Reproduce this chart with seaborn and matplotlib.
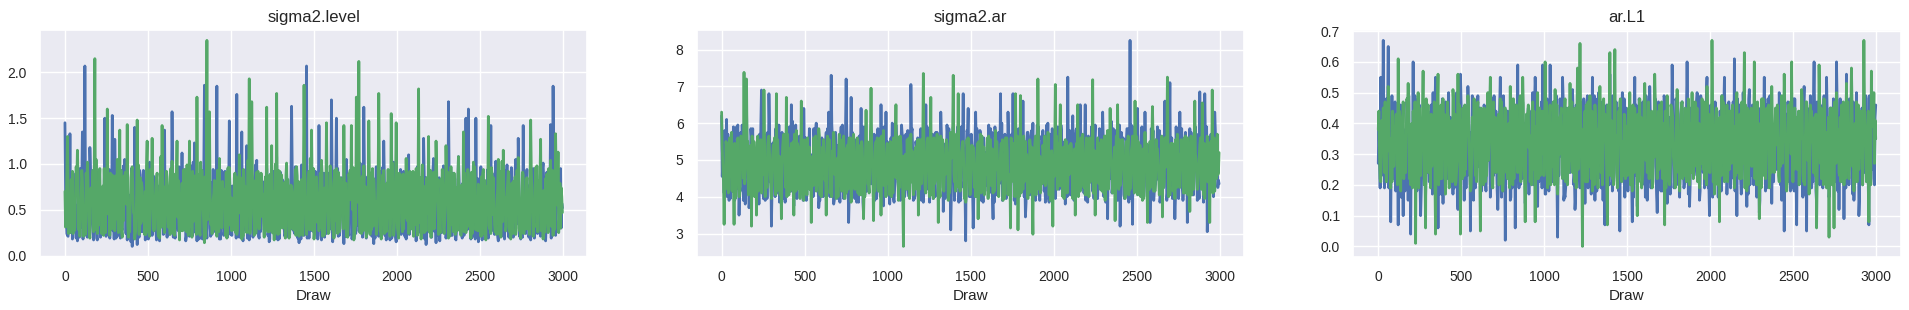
import matplotlib
matplotlib.use("Agg")
import matplotlib.pyplot as plt
import numpy as np
import pandas as pd
import seaborn as sns

# Trace values, every 15th draw ("main" lists carry the
# visible spikes) plus three readings of the band between them (q1, mid, q3).

# --- sigma2.level ---
level_chain1 = [
    1.45, 0.22, 1.33, 0.18, 0.71, 0.16, 0.95, 1.35, 2.07, 0.20, 1.18, 0.35, 0.88, 0.17, 0.62, 0.24, 1.50, 0.31, 0.19, 1.53,
    1.27, 0.21, 0.84, 0.28, 1.05, 0.17, 0.66, 0.10, 1.40, 0.12, 0.93, 0.26, 0.58, 0.19, 1.02, 0.22, 0.77, 0.30, 0.16, 0.85,
    1.37, 0.20, 0.69, 1.57, 0.24, 0.91, 0.18, 1.12, 0.33, 0.72, 0.21, 0.98, 1.23, 0.16, 0.64, 0.27, 1.86, 0.19, 0.81, 0.23,
    0.55, 1.85, 0.18, 0.92, 0.26, 0.70, 1.47, 0.22, 0.58, 1.76, 0.20, 1.35, 0.31, 1.20, 0.17, 0.87, 0.24, 1.04, 0.19, 0.66,
    0.28, 0.95, 0.15, 0.78, 0.23, 1.08, 0.18, 0.61, 0.30, 0.89, 0.21, 1.63, 0.26, 0.74, 0.14, 0.99, 0.22, 2.07, 0.19, 0.83,
    0.25, 0.67, 1.42, 0.17, 0.90, 0.24, 0.56, 1.70, 0.20, 1.50, 0.28, 0.85, 0.13, 1.05, 0.22, 0.71, 0.18, 0.96, 0.27, 0.60,
    1.62, 0.19, 0.88, 0.25, 0.13, 0.97, 0.21, 0.69, 1.25, 0.17, 0.80, 0.26, 1.02, 0.15, 0.64, 0.23, 0.92, 0.18, 1.10, 0.29,
    0.73, 0.16, 0.94, 0.24, 1.28, 0.12, 0.81, 0.20, 1.06, 0.14, 0.66, 0.25, 0.98, 0.19, 1.68, 0.22, 0.75, 0.17, 1.08, 0.26,
    0.59, 1.50, 1.60, 0.18, 0.84, 1.50, 0.15, 0.97, 0.23, 0.70, 0.19, 1.42, 0.27, 1.03, 0.16, 0.79, 0.21, 0.93, 0.25, 0.62,
    0.20, 1.05, 1.28, 0.18, 1.42, 0.24, 0.76, 0.17, 0.95, 0.29, 0.68, 0.21, 1.01, 0.16, 0.84, 1.43, 1.85, 0.22, 0.71, 0.95,
]
level_chain1_q1 = [
    0.68, 0.21, 0.53, 0.90, 0.30, 0.45, 0.79, 0.18, 0.62, 0.36, 0.93, 0.25, 0.57, 0.73, 0.20, 0.48, 0.86, 0.33, 0.65, 0.27,
    0.82, 0.40, 0.19, 0.60, 0.95, 0.29, 0.51, 0.74, 0.22, 0.67, 0.35, 0.88, 0.17, 0.56, 0.80, 0.31, 0.63, 0.24, 0.46, 0.91,
    0.26, 0.64, 0.37, 0.85, 0.19, 0.52, 0.70, 0.28, 0.94, 0.43, 0.60, 0.22, 0.78, 0.34, 0.89, 0.18, 0.55, 0.72, 0.30, 0.47,
    0.84, 0.23, 0.66, 0.39, 0.92, 0.20, 0.58, 0.76, 0.32, 0.50, 0.87, 0.26, 0.61, 0.19, 0.97, 0.42, 0.69, 0.25, 0.54, 0.81,
    0.35, 0.73, 0.18, 0.59, 0.88, 0.29, 0.49, 0.83, 0.21, 0.66, 0.38, 0.94, 0.24, 0.57, 0.77, 0.32, 0.62, 0.19, 0.90, 0.44,
    0.60, 0.27, 0.85, 0.41, 0.20, 0.71, 0.53, 0.93, 0.30, 0.64, 0.22, 0.79, 0.47, 0.36, 0.89, 0.18, 0.58, 0.75, 0.26, 0.51,
    0.92, 0.33, 0.57, 0.21, 0.80, 0.45, 0.68, 0.24, 0.86, 0.39, 0.62, 0.19, 0.95, 0.52, 0.28, 0.74, 0.43, 0.87, 0.23, 0.65,
    0.40, 0.81, 0.26, 0.55, 0.91, 0.30, 0.69, 0.20, 0.77, 0.48, 0.85, 0.25, 0.59, 0.37, 0.94, 0.22, 0.63, 0.29, 0.83, 0.50,
    0.22, 0.67, 0.44, 0.89, 0.27, 0.61, 0.80, 0.35, 0.54, 0.19, 0.92, 0.42, 0.70, 0.24, 0.58, 0.86, 0.31, 0.75, 0.20, 0.96,
    0.63, 0.34, 0.88, 0.25, 0.52, 0.79, 0.20, 0.67, 0.45, 0.93, 0.28, 0.60, 0.82, 0.36, 0.56, 0.19, 0.90, 0.47, 0.72, 0.30,
]
level_chain1_mid = [
    0.42, 0.88, 0.25, 0.63, 0.19, 0.74, 0.31, 0.96, 0.22, 0.58, 0.81, 0.17, 0.47, 0.92, 0.28, 0.69, 0.21, 0.85, 0.36, 0.55,
    0.19, 0.77, 0.33, 0.98, 0.24, 0.61, 0.15, 0.83, 0.39, 0.70, 0.26, 0.93, 0.45, 0.18, 0.66, 0.87, 0.29, 0.52, 0.97, 0.23,
    0.71, 0.35, 0.90, 0.20, 0.57, 0.27, 0.82, 0.44, 0.16, 0.75, 0.38, 1.02, 0.25, 0.62, 0.19, 0.86, 0.32, 0.68, 0.21, 0.94,
    0.30, 0.60, 0.18, 0.79, 0.41, 0.95, 0.23, 0.54, 0.88, 0.27, 0.65, 0.16, 0.84, 0.37, 0.72, 0.20, 0.99, 0.46, 0.26, 0.80,
    0.53, 0.22, 0.89, 0.34, 0.67, 0.17, 0.91, 0.43, 0.24, 0.76, 0.59, 0.28, 0.97, 0.19, 0.64, 0.40, 0.85, 0.23, 0.70, 0.31,
    0.92, 0.18, 0.61, 0.36, 0.83, 0.25, 0.73, 0.15, 0.56, 0.95, 0.30, 0.68, 0.21, 0.87, 0.42, 0.26, 0.78, 0.33, 1.01, 0.20,
    0.48, 0.86, 0.27, 0.64, 0.19, 0.81, 0.35, 0.96, 0.22, 0.58, 0.17, 0.74, 0.44, 0.90, 0.29, 0.67, 0.21, 0.83, 0.38, 0.55,
    0.24, 0.97, 0.32, 0.70, 0.18, 0.62, 0.45, 0.88, 0.26, 0.79, 0.16, 0.57, 0.93, 0.34, 0.69, 0.22, 0.84, 0.40, 0.60, 0.19,
    0.87, 0.28, 0.74, 0.20, 0.95, 0.37, 0.63, 0.17, 0.82, 0.46, 0.27, 0.90, 0.23, 0.71, 0.33, 0.58, 0.18, 0.99, 0.41, 0.66,
    0.29, 0.78, 0.21, 0.61, 0.35, 0.94, 0.25, 0.72, 0.19, 0.86, 0.43, 0.54, 0.27, 0.91, 0.31, 0.68, 0.24, 0.80, 0.38, 0.57,
]
level_chain1_q3 = [
    0.24, 0.61, 0.86, 0.34, 0.55, 0.20, 0.77, 0.43, 0.91, 0.29, 0.66, 0.52, 0.19, 0.83, 0.38, 0.71, 0.26, 0.94, 0.49, 0.18,
    0.58, 0.87, 0.30, 0.46, 0.72, 0.22, 0.95, 0.36, 0.64, 0.20, 0.81, 0.41, 0.68, 0.27, 0.90, 0.53, 0.17, 0.76, 0.33, 0.60,
    0.89, 0.23, 0.54, 0.75, 0.31, 0.97, 0.40, 0.63, 0.21, 0.84, 0.48, 0.29, 0.70, 0.18, 0.59, 0.92, 0.35, 0.50, 0.80, 0.26,
    0.63, 0.44, 0.93, 0.22, 0.57, 0.78, 0.30, 0.67, 0.19, 0.85, 0.39, 0.61, 0.27, 0.95, 0.50, 0.33, 0.73, 0.21, 0.88, 0.42,
    0.71, 0.30, 0.55, 0.92, 0.25, 0.64, 0.38, 0.81, 0.47, 0.20, 0.87, 0.56, 0.33, 0.74, 0.18, 0.96, 0.41, 0.60, 0.27, 0.83,
    0.36, 0.79, 0.22, 0.68, 0.50, 0.90, 0.29, 0.58, 0.83, 0.21, 0.65, 0.44, 0.97, 0.31, 0.54, 0.76, 0.24, 0.88, 0.39, 0.62,
    0.27, 0.59, 0.84, 0.40, 0.71, 0.23, 0.92, 0.48, 0.62, 0.30, 0.87, 0.55, 0.20, 0.69, 0.94, 0.35, 0.57, 0.25, 0.78, 0.46,
    0.88, 0.25, 0.64, 0.42, 0.85, 0.31, 0.56, 0.93, 0.38, 0.22, 0.72, 0.49, 0.82, 0.27, 0.60, 0.90, 0.19, 0.67, 0.44, 0.79,
    0.55, 0.91, 0.32, 0.62, 0.18, 0.84, 0.43, 0.69, 0.26, 0.94, 0.51, 0.35, 0.76, 0.21, 0.88, 0.40, 0.65, 0.28, 0.83, 0.47,
    0.92, 0.39, 0.58, 0.20, 0.81, 0.46, 0.70, 0.31, 0.87, 0.24, 0.63, 0.95, 0.37, 0.55, 0.78, 0.26, 0.61, 0.89, 0.33, 0.52,
]
level_chain2 = [
    0.70, 1.30, 0.25, 0.92, 0.31, 1.15, 0.21, 0.84, 0.28, 1.02, 0.19, 0.76, 2.15, 0.24, 0.95, 0.33, 0.68, 1.60, 0.22, 0.88,
    0.27, 1.05, 1.37, 0.20, 0.80, 1.43, 0.26, 0.97, 0.18, 1.48, 0.30, 0.74, 0.23, 1.25, 0.21, 1.28, 0.29, 0.90, 0.19, 1.42,
    0.25, 0.86, 0.32, 1.03, 0.22, 1.25, 0.17, 0.79, 0.28, 0.99, 1.25, 0.20, 0.87, 1.73, 0.26, 0.93, 0.14, 2.35, 1.57, 0.24,
    0.82, 0.21, 1.06, 0.30, 0.72, 0.19, 0.96, 0.27, 0.85, 0.23, 1.10, 0.18, 0.78, 0.25, 1.93, 1.68, 0.22, 0.91, 0.29, 0.69,
    0.20, 1.62, 0.26, 1.20, 0.17, 1.77, 0.24, 0.88, 0.31, 1.01, 0.19, 0.75, 0.28, 0.97, 0.21, 0.83, 1.86, 0.23, 0.92, 1.37,
    0.18, 0.86, 0.27, 1.04, 0.22, 1.45, 0.25, 0.79, 0.19, 0.95, 0.30, 0.73, 1.42, 0.21, 0.89, 1.42, 0.17, 1.73, 2.12, 0.24,
    0.98, 0.20, 1.47, 0.28, 0.84, 0.23, 1.77, 0.18, 0.93, 0.26, 0.71, 1.55, 0.22, 1.45, 0.19, 0.87, 0.29, 1.06, 0.24, 0.80,
    0.21, 0.95, 1.82, 0.18, 0.76, 0.27, 1.30, 0.20, 0.91, 1.25, 0.23, 0.83, 0.30, 1.20, 0.19, 0.97, 0.26, 0.74, 1.08, 0.22,
    1.35, 0.25, 0.89, 0.19, 1.02, 0.28, 0.78, 0.21, 0.94, 0.17, 1.52, 0.24, 0.85, 0.30, 1.05, 0.20, 1.15, 0.27, 0.92, 0.18,
    0.81, 0.23, 1.07, 0.19, 0.88, 0.29, 0.72, 1.48, 0.21, 0.96, 0.26, 1.27, 0.18, 0.84, 0.25, 1.04, 0.22, 1.33, 1.13, 0.30,
]
level_chain2_q1 = [
    0.31, 0.79, 0.46, 0.24, 0.68, 0.88, 0.37, 0.57, 0.23, 0.82, 0.50, 0.93, 0.28, 0.64, 0.40, 0.76, 0.25, 0.59, 0.90, 0.35,
    0.87, 0.43, 0.29, 0.66, 0.91, 0.33, 0.54, 0.78, 0.24, 0.61, 0.85, 0.38, 0.70, 0.26, 0.94, 0.48, 0.63, 0.30, 0.81, 0.52,
    0.36, 0.75, 0.23, 0.60, 0.89, 0.42, 0.67, 0.27, 0.84, 0.55, 0.32, 0.92, 0.45, 0.71, 0.22, 0.58, 0.86, 0.39, 0.77, 0.25,
    0.58, 0.93, 0.34, 0.81, 0.47, 0.26, 0.73, 0.62, 0.90, 0.29, 0.56, 0.85, 0.41, 0.67, 0.24, 0.95, 0.51, 0.32, 0.78, 0.44,
    0.72, 0.37, 0.88, 0.25, 0.64, 0.53, 0.92, 0.30, 0.80, 0.41, 0.23, 0.69, 0.57, 0.87, 0.33, 0.61, 0.94, 0.46, 0.28, 0.75,
    0.30, 0.68, 0.53, 0.89, 0.27, 0.76, 0.39, 0.62, 0.93, 0.44, 0.26, 0.80, 0.58, 0.35, 0.84, 0.66, 0.23, 0.91, 0.48, 0.71,
    0.63, 0.26, 0.82, 0.49, 0.70, 0.35, 0.94, 0.56, 0.24, 0.79, 0.42, 0.87, 0.31, 0.65, 0.90, 0.38, 0.74, 0.55, 0.27, 0.83,
    0.47, 0.89, 0.36, 0.62, 0.25, 0.85, 0.51, 0.73, 0.29, 0.93, 0.40, 0.66, 0.24, 0.81, 0.57, 0.34, 0.90, 0.63, 0.42, 0.77,
    0.26, 0.72, 0.55, 0.91, 0.38, 0.64, 0.27, 0.86, 0.48, 0.75, 0.33, 0.96, 0.59, 0.23, 0.80, 0.44, 0.68, 0.32, 0.88, 0.53,
    0.69, 0.30, 0.84, 0.47, 0.24, 0.77, 0.58, 0.92, 0.35, 0.63, 0.82, 0.27, 0.71, 0.49, 0.95, 0.32, 0.60, 0.86, 0.25, 0.74,
]
level_chain2_mid = [
    0.55, 0.24, 0.83, 0.36, 0.97, 0.28, 0.66, 0.21, 0.90, 0.41, 0.74, 0.26, 1.05, 0.33, 0.59, 0.22, 0.87, 0.45, 0.30, 0.78,
    0.62, 0.25, 0.93, 0.38, 0.71, 0.20, 0.85, 0.47, 0.27, 0.99, 0.35, 0.64, 0.23, 0.89, 0.52, 0.29, 0.76, 0.21, 1.08, 0.40,
    0.69, 0.31, 0.95, 0.24, 0.58, 0.82, 0.27, 0.73, 0.43, 0.22, 0.91, 0.37, 0.65, 0.26, 1.02, 0.48, 0.20, 0.80, 0.34, 0.61,
    0.28, 0.88, 0.39, 0.70, 0.22, 0.96, 0.33, 0.57, 0.25, 0.84, 0.46, 0.21, 0.75, 1.04, 0.30, 0.63, 0.24, 0.92, 0.42, 0.67,
    0.86, 0.26, 0.60, 0.35, 1.00, 0.23, 0.72, 0.44, 0.19, 0.83, 0.53, 0.29, 0.94, 0.37, 0.68, 0.22, 0.79, 0.32, 1.06, 0.27,
    0.64, 0.36, 0.90, 0.21, 0.74, 0.45, 0.98, 0.28, 0.59, 0.24, 0.85, 0.39, 0.66, 0.20, 0.93, 0.50, 0.31, 0.77, 0.25, 0.87,
    0.34, 0.70, 0.23, 0.95, 0.41, 0.62, 0.27, 0.88, 0.36, 0.73, 0.21, 1.01, 0.47, 0.30, 0.81, 0.26, 0.65, 0.38, 0.92, 0.29,
    0.76, 0.22, 0.58, 0.99, 0.33, 0.69, 0.25, 0.86, 0.43, 0.61, 0.28, 0.94, 0.37, 0.72, 0.21, 0.84, 0.49, 0.27, 0.67, 0.35,
    0.90, 0.31, 0.63, 0.24, 0.97, 0.40, 0.71, 0.22, 0.82, 0.52, 0.29, 0.88, 0.34, 0.60, 0.23, 1.03, 0.45, 0.68, 0.26, 0.79,
    0.37, 0.93, 0.27, 0.66, 0.42, 0.85, 0.23, 0.74, 0.31, 0.98, 0.48, 0.62, 0.25, 0.89, 0.36, 0.70, 0.28, 0.83, 0.40, 0.64,
]
level_chain2_q3 = [
    0.88, 0.44, 0.61, 0.27, 0.80, 0.52, 0.93, 0.34, 0.70, 0.25, 0.58, 0.83, 0.39, 0.76, 0.24, 0.95, 0.48, 0.67, 0.29, 0.85,
    0.40, 0.73, 0.26, 0.87, 0.56, 0.32, 0.92, 0.45, 0.69, 0.23, 0.80, 0.53, 0.97, 0.36, 0.62, 0.27, 0.84, 0.50, 0.31, 0.75,
    0.92, 0.49, 0.27, 0.71, 0.85, 0.37, 0.59, 0.94, 0.26, 0.65, 0.78, 0.43, 0.23, 0.88, 0.54, 0.30, 0.74, 0.96, 0.41, 0.68,
    0.45, 0.26, 0.79, 0.56, 0.91, 0.35, 0.63, 0.28, 0.86, 0.51, 0.72, 0.94, 0.33, 0.60, 0.46, 0.82, 0.25, 0.69, 0.90, 0.37,
    0.29, 0.84, 0.43, 0.70, 0.25, 0.93, 0.51, 0.64, 0.88, 0.32, 0.77, 0.46, 0.22, 0.81, 0.59, 0.90, 0.35, 0.73, 0.49, 0.95,
    0.82, 0.48, 0.31, 0.73, 0.57, 0.24, 0.86, 0.67, 0.38, 0.91, 0.53, 0.29, 0.79, 0.45, 0.61, 0.96, 0.33, 0.58, 0.84, 0.27,
    0.75, 0.50, 0.90, 0.32, 0.59, 0.86, 0.26, 0.69, 0.48, 0.94, 0.35, 0.63, 0.82, 0.24, 0.55, 0.89, 0.41, 0.71, 0.30, 0.92,
    0.34, 0.66, 0.85, 0.28, 0.72, 0.46, 0.93, 0.31, 0.60, 0.83, 0.25, 0.77, 0.52, 0.91, 0.36, 0.68, 0.23, 0.87, 0.55, 0.29,
    0.71, 0.94, 0.38, 0.59, 0.82, 0.27, 0.66, 0.90, 0.33, 0.54, 0.85, 0.45, 0.26, 0.74, 0.92, 0.37, 0.63, 0.81, 0.41, 0.24,
    0.86, 0.53, 0.36, 0.91, 0.64, 0.29, 0.80, 0.42, 0.71, 0.26, 0.88, 0.57, 0.34, 0.76, 0.61, 0.93, 0.30, 0.55, 0.79, 0.47,
]

# --- sigma2.ar ---
ar_sigma_chain1 = [
    6.20, 4.10, 6.10, 3.90, 5.40, 4.30, 5.90, 3.50, 5.10, 4.00, 6.40, 3.70, 5.60, 4.40, 5.20, 3.80, 6.90, 4.20, 5.70, 6.80,
    3.20, 5.50, 4.60, 5.95, 3.85, 5.30, 4.10, 5.80, 6.50, 3.75, 5.00, 4.45, 5.65, 6.40, 3.90, 5.25, 4.20, 5.85, 6.00, 3.70,
    5.45, 4.05, 5.75, 6.30, 7.30, 3.80, 5.20, 4.35, 5.90, 3.95, 7.20, 3.30, 6.70, 4.15, 5.55, 3.85, 6.40, 3.50, 5.35, 4.25,
    5.80, 3.90, 5.15, 4.40, 6.50, 3.75, 6.30, 4.05, 5.60, 3.95, 5.95, 4.30, 5.40, 3.80, 5.70, 4.15, 7.05, 3.90, 5.50, 4.50,
    5.85, 3.85, 6.50, 4.20, 5.30, 3.95, 5.75, 4.40, 6.30, 3.60, 5.45, 4.10, 3.10, 5.90, 4.25, 5.60, 3.90, 6.80, 2.80, 6.40,
    4.00, 3.15, 6.30, 4.35, 5.65, 3.85, 5.20, 4.15, 5.85, 3.40, 5.50, 4.05, 6.80, 3.95, 5.35, 6.30, 4.20, 6.80, 3.80, 5.60,
    4.30, 6.60, 3.45, 5.75, 4.10, 6.00, 3.90, 5.40, 4.45, 5.80, 3.85, 6.00, 4.20, 5.55, 3.95, 5.90, 4.35, 5.25, 3.80, 7.25,
    4.05, 6.20, 3.90, 5.70, 6.50, 4.25, 6.50, 3.85, 5.45, 4.15, 5.95, 3.95, 5.35, 6.30, 4.10, 3.40, 5.60, 4.30, 5.80, 3.90,
    3.20, 5.50, 4.20, 5.85, 8.25, 3.25, 5.60, 6.40, 4.05, 5.65, 6.30, 3.90, 3.30, 5.40, 4.25, 5.90, 3.85, 5.55, 6.60, 4.10,
    7.10, 3.95, 3.40, 5.75, 6.30, 4.20, 5.50, 3.30, 5.85, 4.05, 5.40, 3.90, 6.85, 4.30, 6.80, 3.05, 5.60, 4.15, 6.30, 5.00,
]
ar_sigma_chain1_q1 = [
    4.55, 5.80, 4.00, 5.35, 4.70, 3.90, 5.60, 4.25, 5.95, 4.45, 5.15, 3.85, 5.50, 4.80, 4.10, 5.70, 4.35, 5.25, 3.95, 5.85,
    4.20, 5.45, 4.90, 3.85, 5.75, 4.40, 5.05, 5.90, 4.15, 5.30, 3.95, 5.65, 4.60, 5.10, 4.05, 5.85, 4.30, 5.55, 4.75, 3.90,
    5.60, 4.10, 5.20, 4.70, 5.95, 3.90, 5.40, 4.55, 5.05, 4.25, 5.80, 4.00, 5.30, 4.85, 3.85, 5.65, 4.45, 5.90, 4.15, 5.15,
    4.35, 5.70, 3.95, 5.25, 4.65, 5.90, 4.20, 5.45, 4.80, 3.85, 5.55, 4.10, 5.95, 4.50, 5.10, 4.00, 5.75, 4.30, 5.35, 4.90,
    3.90, 5.40, 4.55, 5.80, 4.15, 5.20, 4.75, 3.95, 5.65, 4.35, 5.00, 5.85, 4.05, 5.50, 4.60, 3.85, 5.90, 4.25, 5.30, 4.70,
    5.70, 4.00, 5.35, 4.85, 3.90, 5.60, 4.30, 5.95, 4.50, 5.15, 4.05, 5.75, 4.40, 5.25, 3.95, 5.55, 4.65, 5.00, 4.20, 5.85,
    4.45, 5.25, 3.85, 5.65, 4.70, 5.05, 4.10, 5.90, 4.35, 5.40, 4.80, 3.95, 5.70, 4.25, 5.15, 4.55, 5.95, 4.00, 5.45, 4.90,
    5.50, 4.20, 5.80, 4.05, 5.30, 4.60, 3.90, 5.65, 4.40, 5.95, 4.15, 5.10, 4.75, 5.55, 3.85, 5.35, 4.50, 5.85, 4.30, 5.05,
    4.10, 5.60, 4.45, 5.25, 3.95, 5.90, 4.65, 5.00, 4.20, 5.70, 4.85, 5.40, 3.90, 5.80, 4.35, 5.15, 4.00, 5.55, 4.60, 5.95,
    4.70, 5.15, 4.00, 5.50, 4.85, 3.90, 5.75, 4.30, 5.35, 4.55, 5.90, 4.10, 5.20, 4.65, 5.60, 3.95, 5.45, 4.40, 5.80, 4.25,
]
ar_sigma_chain1_mid = [
    5.10, 4.35, 5.70, 3.95, 5.35, 4.60, 5.95, 4.15, 5.50, 3.80, 5.25, 4.50, 5.85, 4.05, 5.60, 4.30, 5.05, 3.90, 5.75, 4.40,
    5.45, 4.00, 5.90, 4.25, 5.15, 3.85, 5.65, 4.55, 6.05, 4.10, 5.30, 4.45, 5.80, 3.95, 5.55, 4.20, 5.00, 4.65, 5.70, 3.90,
    5.20, 4.40, 5.85, 4.00, 5.60, 4.30, 5.35, 3.85, 5.95, 4.50, 5.10, 4.15, 5.75, 3.95, 5.40, 4.60, 5.90, 4.05, 5.25, 4.35,
    5.65, 3.90, 5.30, 4.45, 5.80, 4.10, 5.50, 3.80, 6.00, 4.25, 5.15, 4.55, 5.70, 4.00, 5.45, 4.35, 5.85, 3.95, 5.20, 4.50,
    5.55, 4.15, 5.90, 3.85, 5.35, 4.40, 5.75, 4.05, 5.10, 4.60, 5.95, 4.20, 5.50, 3.90, 5.65, 4.30, 5.05, 4.45, 5.80, 4.00,
    5.40, 4.25, 5.85, 3.95, 5.60, 4.50, 5.20, 4.10, 5.75, 3.85, 5.45, 4.35, 6.00, 4.05, 5.30, 4.55, 5.70, 3.90, 5.15, 4.40,
    5.90, 4.00, 5.50, 4.30, 5.80, 3.95, 5.25, 4.45, 5.65, 4.15, 5.95, 3.85, 5.40, 4.60, 5.10, 4.20, 5.75, 4.05, 5.55, 4.35,
    5.30, 3.90, 5.85, 4.50, 5.60, 4.10, 5.15, 4.40, 5.90, 3.95, 5.45, 4.25, 5.70, 4.00, 5.35, 4.55, 6.05, 4.15, 5.20, 4.30,
    5.75, 4.05, 5.50, 3.85, 5.95, 4.35, 5.25, 4.60, 5.65, 4.00, 5.40, 4.20, 5.85, 3.90, 5.55, 4.45, 5.10, 4.25, 5.80, 4.10,
    5.35, 4.40, 5.90, 3.95, 5.60, 4.15, 5.45, 4.50, 5.75, 4.05, 5.20, 4.30, 5.95, 3.85, 5.50, 4.35, 5.70, 4.00, 5.30, 4.45,
]
ar_sigma_chain1_q3 = [
    5.65, 4.05, 5.30, 4.60, 5.90, 4.20, 4.95, 5.75, 3.90, 5.45, 4.40, 5.85, 4.10, 5.20, 4.70, 5.95, 3.95, 5.55, 4.50, 5.05,
    4.65, 5.85, 4.10, 5.40, 3.95, 5.70, 4.45, 5.00, 4.80, 5.95, 4.25, 5.25, 3.90, 5.60, 4.55, 5.15, 4.00, 5.80, 4.35, 5.50,
    4.00, 5.55, 4.80, 5.10, 4.25, 5.75, 3.95, 5.65, 4.35, 5.90, 4.60, 5.20, 4.10, 5.50, 4.90, 5.05, 3.85, 5.80, 4.55, 5.30,
    5.40, 4.15, 5.85, 4.00, 5.55, 4.30, 5.05, 4.75, 5.90, 4.40, 5.25, 3.90, 5.65, 4.20, 5.80, 4.60, 5.15, 4.05, 5.60, 4.45,
    5.85, 4.30, 5.10, 4.60, 5.70, 4.00, 5.50, 4.85, 5.30, 3.95, 5.65, 4.35, 5.15, 4.75, 5.90, 4.20, 5.40, 4.05, 5.75, 4.55,
    4.25, 5.50, 4.05, 5.80, 4.45, 5.15, 4.70, 5.35, 4.00, 5.90, 4.55, 5.20, 3.90, 5.70, 4.35, 5.05, 4.85, 5.60, 4.10, 5.45,
    5.15, 4.50, 5.75, 4.05, 5.40, 4.30, 5.95, 3.90, 5.55, 4.70, 5.25, 4.15, 5.85, 4.45, 5.00, 5.65, 4.20, 5.50, 4.00, 5.80,
    4.40, 5.70, 4.25, 5.90, 4.60, 5.20, 4.00, 5.45, 4.80, 5.60, 3.95, 5.85, 4.35, 5.05, 4.55, 5.75, 4.10, 5.30, 4.65, 5.95,
    5.45, 3.95, 5.85, 4.50, 5.15, 4.75, 5.60, 4.05, 5.90, 4.30, 5.25, 4.60, 5.70, 4.15, 5.00, 5.80, 4.40, 5.35, 3.90, 5.55,
    5.60, 4.20, 5.05, 4.65, 5.85, 4.30, 5.50, 4.00, 5.25, 4.75, 5.70, 3.95, 5.40, 4.50, 5.90, 4.15, 5.15, 4.60, 5.55, 4.35,
]
ar_sigma_chain2 = [
    6.30, 3.25, 5.40, 4.20, 5.75, 3.25, 5.10, 4.00, 5.60, 7.38, 7.20, 4.35, 3.20, 5.50, 3.50, 5.20, 4.10, 6.90, 4.45, 5.65,
    3.95, 5.35, 6.80, 4.25, 3.40, 5.70, 6.70, 4.05, 5.45, 3.50, 5.80, 4.30, 6.60, 3.90, 5.25, 4.50, 3.30, 5.60, 4.15, 5.85,
    4.00, 5.55, 3.50, 5.30, 4.20, 5.75, 3.95, 5.15, 4.40, 5.65, 4.10, 5.45, 3.85, 5.70, 4.25, 5.35, 4.05, 3.40, 6.35, 4.30,
    6.95, 3.35, 5.50, 4.15, 3.50, 5.80, 4.00, 5.25, 4.45, 5.60, 6.50, 3.90, 5.40, 2.65, 5.05, 4.30, 5.70, 4.05, 5.35, 3.50,
    5.55, 7.35, 4.10, 5.45, 6.70, 3.95, 5.20, 3.30, 5.65, 4.25, 5.30, 3.90, 5.75, 7.30, 4.15, 6.80, 4.40, 5.50, 3.85, 5.60,
    4.20, 5.35, 4.00, 3.40, 5.70, 4.30, 5.15, 3.95, 5.55, 4.10, 5.80, 4.35, 5.25, 3.90, 5.60, 4.05, 3.15, 5.45, 6.80, 3.10,
    6.75, 4.20, 5.50, 3.95, 5.30, 2.98, 5.65, 7.20, 4.10, 5.40, 4.30, 5.75, 3.90, 3.20, 7.05, 4.25, 6.50, 4.00, 5.55, 4.35,
    5.20, 3.95, 3.50, 6.50, 4.15, 5.70, 4.05, 5.35, 4.40, 7.18, 3.50, 5.60, 4.20, 5.45, 3.90, 5.80, 6.40, 4.10, 3.35, 6.50,
    4.30, 5.55, 3.95, 5.25, 4.20, 5.65, 6.60, 4.05, 5.40, 3.90, 5.75, 3.30, 5.50, 6.45, 4.15, 5.30, 4.40, 3.45, 5.60, 7.25,
    4.05, 5.45, 3.95, 5.70, 4.25, 5.35, 4.10, 5.60, 3.60, 5.50, 6.60, 4.20, 5.40, 6.55, 3.95, 5.65, 3.30, 6.90, 4.15, 5.70,
]
ar_sigma_chain2_q1 = [
    5.30, 4.50, 5.00, 5.60, 4.15, 5.45, 4.70, 4.05, 5.55, 4.35, 5.15, 4.80, 5.65, 4.00, 5.35, 4.60, 5.05, 5.50, 4.25, 5.20,
    4.55, 5.60, 4.15, 5.10, 4.85, 5.45, 4.00, 5.30, 4.65, 5.70, 4.20, 5.00, 4.45, 5.55, 4.05, 5.35, 4.75, 5.15, 4.30, 5.65,
    4.25, 5.15, 4.80, 5.55, 4.00, 5.40, 4.55, 5.70, 4.15, 5.05, 4.70, 5.60, 4.35, 5.25, 4.90, 4.05, 5.50, 4.45, 5.20, 4.10,
    5.50, 4.60, 5.05, 4.15, 5.65, 4.30, 5.20, 4.85, 4.00, 5.45, 4.50, 5.35, 4.75, 5.10, 4.20, 5.60, 4.40, 5.00, 4.65, 5.55,
    4.35, 5.40, 4.70, 5.15, 4.05, 5.60, 4.50, 5.25, 4.80, 4.15, 5.55, 4.40, 5.05, 4.65, 5.70, 4.25, 5.20, 4.85, 4.00, 5.45,
    4.80, 5.05, 4.35, 5.50, 4.10, 5.35, 4.60, 5.65, 4.30, 5.25, 4.75, 4.00, 5.45, 4.55, 5.15, 4.25, 5.60, 4.40, 5.00, 4.70,
    4.10, 5.65, 4.50, 5.05, 4.75, 5.30, 4.05, 5.50, 4.60, 5.20, 4.35, 5.70, 4.15, 5.10, 4.85, 5.45, 4.30, 5.35, 4.70, 5.00,
    5.45, 4.40, 5.15, 4.00, 5.60, 4.65, 5.25, 4.30, 5.50, 4.10, 5.05, 4.80, 5.40, 4.55, 5.65, 4.20, 5.30, 4.45, 5.10, 4.75,
    4.60, 5.35, 4.20, 5.65, 4.45, 5.05, 4.85, 5.50, 4.00, 5.30, 4.70, 5.15, 4.25, 5.60, 4.50, 5.00, 4.35, 5.45, 4.80, 5.20,
    5.25, 4.15, 5.55, 4.35, 5.10, 4.70, 5.65, 4.05, 5.40, 4.55, 5.20, 4.30, 5.60, 4.80, 5.00, 4.40, 5.45, 4.10, 5.35, 4.60,
]
ar_sigma_chain2_mid = [
    4.85, 4.20, 5.45, 4.55, 5.10, 3.95, 5.60, 4.35, 5.25, 4.70, 5.50, 4.10, 5.05, 4.45, 5.65, 4.25, 5.30, 4.00, 5.40, 4.60,
    5.15, 4.30, 5.55, 4.05, 5.35, 4.65, 5.70, 4.15, 5.00, 4.50, 5.45, 3.95, 5.20, 4.40, 5.60, 4.20, 5.10, 4.75, 5.50, 4.05,
    5.35, 4.45, 5.65, 4.10, 5.25, 4.60, 5.05, 4.30, 5.55, 3.95, 5.40, 4.50, 5.15, 4.20, 5.60, 4.35, 5.30, 4.00, 5.50, 4.65,
    5.20, 4.15, 5.60, 4.40, 5.00, 4.70, 5.45, 4.05, 5.35, 4.55, 5.65, 4.25, 5.10, 4.45, 5.55, 3.95, 5.25, 4.60, 5.40, 4.20,
    5.05, 4.50, 5.50, 4.00, 5.30, 4.35, 5.70, 4.20, 5.15, 4.65, 5.45, 4.10, 5.60, 4.40, 5.00, 4.55, 5.35, 3.95, 5.55, 4.30,
    5.40, 4.25, 5.20, 4.60, 5.65, 4.05, 5.30, 4.45, 5.05, 4.15, 5.50, 4.70, 5.25, 3.95, 5.60, 4.35, 5.10, 4.50, 5.45, 4.00,
    5.55, 4.40, 5.15, 4.10, 5.35, 4.65, 5.60, 4.20, 5.00, 4.45, 5.40, 4.05, 5.25, 4.55, 5.65, 4.30, 5.10, 3.95, 5.50, 4.60,
    5.30, 4.15, 5.45, 4.50, 5.05, 4.25, 5.60, 4.00, 5.35, 4.70, 5.20, 4.35, 5.55, 4.10, 5.40, 4.45, 5.00, 4.60, 5.65, 4.20,
    5.10, 4.55, 5.50, 4.05, 5.25, 4.40, 5.65, 4.30, 5.15, 3.95, 5.45, 4.65, 5.35, 4.15, 5.55, 4.50, 5.05, 4.25, 5.60, 4.00,
    5.45, 4.35, 5.20, 4.60, 5.55, 4.10, 5.30, 4.45, 5.65, 4.20, 5.00, 4.55, 5.40, 4.05, 5.25, 4.70, 5.50, 4.30, 5.15, 4.65,
]
ar_sigma_chain2_q3 = [
    4.40, 5.50, 4.10, 5.25, 4.65, 5.00, 4.25, 5.65, 4.50, 5.10, 4.05, 5.40, 4.75, 5.30, 4.15, 5.55, 4.60, 4.95, 5.60, 4.30,
    5.40, 4.05, 5.05, 4.70, 5.60, 4.25, 5.20, 4.55, 5.50, 4.15, 5.35, 4.80, 4.10, 5.45, 4.60, 5.00, 4.30, 5.65, 4.45, 5.10,
    5.00, 4.60, 5.55, 4.30, 5.15, 4.85, 4.00, 5.45, 4.65, 5.30, 4.20, 5.60, 4.50, 5.05, 4.10, 5.40, 4.75, 5.20, 4.35, 5.65,
    4.50, 5.35, 4.25, 5.60, 4.80, 5.05, 4.35, 5.50, 4.10, 5.25, 4.70, 5.65, 4.00, 5.15, 4.55, 5.40, 4.85, 4.20, 5.55, 4.65,
    5.35, 4.20, 5.60, 4.75, 5.10, 4.45, 5.40, 4.00, 5.55, 4.60, 5.20, 4.30, 5.65, 4.85, 5.00, 4.15, 5.50, 4.50, 5.25, 4.05,
    5.10, 4.55, 5.45, 4.20, 5.00, 4.70, 5.60, 4.35, 5.30, 4.80, 5.15, 4.45, 5.55, 4.10, 5.25, 4.60, 5.40, 4.00, 5.65, 4.30,
    4.75, 5.20, 4.30, 5.55, 4.00, 5.45, 4.65, 5.10, 4.35, 5.65, 4.50, 5.05, 4.80, 5.35, 4.20, 5.60, 4.45, 5.00, 4.10, 5.40,
    4.60, 5.30, 4.80, 5.50, 4.35, 5.15, 4.05, 5.60, 4.70, 5.25, 4.45, 5.45, 4.15, 5.65, 4.55, 5.05, 4.90, 5.35, 4.25, 5.55,
    5.55, 4.30, 5.15, 4.70, 5.40, 4.10, 5.60, 4.50, 5.25, 4.85, 5.05, 4.20, 5.50, 4.60, 5.30, 4.05, 5.65, 4.40, 5.10, 4.75,
    4.55, 5.40, 4.25, 5.15, 4.85, 5.60, 4.35, 5.30, 4.05, 5.50, 4.65, 5.05, 4.20, 5.45, 4.75, 5.25, 4.15, 5.60, 4.50, 5.20,
]

# --- ar.L1 ---
ar_l1_chain1 = [
    0.27, 0.55, 0.67, 0.22, 0.65, 0.08, 0.41, 0.18, 0.07, 0.46, 0.10, 0.35, 0.15, 0.04, 0.60, 0.24, 0.48, 0.10, 0.38, 0.16,
    0.44, 0.20, 0.50, 0.55, 0.06, 0.39, 0.14, 0.47, 0.22, 0.42, 0.17, 0.36, 0.12, 0.56, 0.25, 0.45, 0.52, 0.05, 0.40, 0.19,
    0.49, 0.13, 0.37, 0.21, 0.46, 0.16, 0.43, 0.24, 0.12, 0.55, 0.18, 0.02, 0.44, 0.15, 0.38, 0.06, 0.59, 0.20, 0.47, 0.14,
    0.41, 0.23, 0.50, 0.55, 0.13, 0.39, 0.59, 0.17, 0.45, 0.59, 0.21, 0.36, 0.03, 0.48, 0.55, 0.16, 0.42, 0.24, 0.51, 0.12,
    0.44, 0.19, 0.38, 0.14, 0.49, 0.22, 0.55, 0.15, 0.40, 0.26, 0.47, 0.07, 0.36, 0.56, 0.18, 0.43, 0.21, 0.05, 0.50, 0.16,
    0.41, 0.25, 0.08, 0.55, 0.13, 0.46, 0.20, 0.37, 0.15, 0.52, 0.23, 0.44, 0.11, 0.39, 0.18, 0.48, 0.14, 0.42, 0.59, 0.22,
    0.37, 0.16, 0.47, 0.21, 0.60, 0.13, 0.43, 0.25, 0.50, 0.15, 0.40, 0.19, 0.55, 0.10, 0.45, 0.22, 0.38, 0.14, 0.49, 0.55,
    0.17, 0.42, 0.24, 0.61, 0.10, 0.46, 0.20, 0.36, 0.13, 0.51, 0.23, 0.44, 0.16, 0.11, 0.41, 0.55, 0.19, 0.47, 0.14, 0.39,
    0.25, 0.50, 0.15, 0.05, 0.43, 0.21, 0.48, 0.18, 0.07, 0.40, 0.24, 0.52, 0.05, 0.37, 0.19, 0.60, 0.14, 0.45, 0.22, 0.49,
    0.55, 0.16, 0.41, 0.23, 0.60, 0.12, 0.46, 0.09, 0.56, 0.20, 0.43, 0.15, 0.50, 0.10, 0.38, 0.24, 0.48, 0.07, 0.45, 0.22,
]
ar_l1_chain1_q1 = [
    0.42, 0.23, 0.36, 0.48, 0.19, 0.33, 0.45, 0.27, 0.40, 0.16, 0.38, 0.24, 0.49, 0.30, 0.21, 0.44, 0.35, 0.18, 0.47, 0.26,
    0.39, 0.46, 0.22, 0.34, 0.43, 0.17, 0.37, 0.28, 0.50, 0.20, 0.41, 0.31, 0.25, 0.47, 0.36, 0.19, 0.42, 0.29, 0.15, 0.45,
    0.26, 0.40, 0.33, 0.18, 0.47, 0.35, 0.23, 0.44, 0.20, 0.38, 0.49, 0.27, 0.41, 0.16, 0.34, 0.46, 0.24, 0.39, 0.30, 0.21,
    0.45, 0.31, 0.20, 0.49, 0.36, 0.27, 0.42, 0.17, 0.40, 0.33, 0.22, 0.46, 0.29, 0.38, 0.48, 0.19, 0.35, 0.25, 0.43, 0.16,
    0.37, 0.47, 0.26, 0.34, 0.19, 0.43, 0.30, 0.48, 0.22, 0.40, 0.15, 0.45, 0.32, 0.24, 0.49, 0.36, 0.20, 0.44, 0.28, 0.38,
    0.18, 0.35, 0.44, 0.23, 0.40, 0.29, 0.47, 0.16, 0.37, 0.42, 0.26, 0.48, 0.21, 0.33, 0.45, 0.25, 0.39, 0.17, 0.46, 0.31,
    0.47, 0.24, 0.39, 0.30, 0.45, 0.20, 0.36, 0.27, 0.49, 0.18, 0.42, 0.34, 0.23, 0.41, 0.16, 0.47, 0.29, 0.44, 0.22, 0.37,
    0.23, 0.43, 0.35, 0.18, 0.48, 0.31, 0.25, 0.44, 0.39, 0.20, 0.46, 0.28, 0.36, 0.15, 0.42, 0.33, 0.24, 0.49, 0.30, 0.40,
    0.34, 0.46, 0.21, 0.41, 0.28, 0.37, 0.19, 0.48, 0.32, 0.26, 0.43, 0.17, 0.45, 0.35, 0.22, 0.40, 0.47, 0.20, 0.38, 0.27,
    0.44, 0.19, 0.37, 0.26, 0.47, 0.33, 0.21, 0.42, 0.29, 0.48, 0.36, 0.23, 0.40, 0.16, 0.45, 0.30, 0.25, 0.49, 0.34, 0.20,
]
ar_l1_chain1_mid = [
    0.31, 0.45, 0.19, 0.40, 0.26, 0.49, 0.22, 0.37, 0.16, 0.43, 0.28, 0.47, 0.20, 0.35, 0.41, 0.18, 0.46, 0.25, 0.33, 0.44,
    0.21, 0.39, 0.27, 0.48, 0.17, 0.42, 0.30, 0.45, 0.23, 0.36, 0.19, 0.50, 0.26, 0.40, 0.15, 0.44, 0.32, 0.24, 0.47, 0.29,
    0.38, 0.18, 0.46, 0.25, 0.41, 0.20, 0.49, 0.28, 0.35, 0.16, 0.43, 0.31, 0.22, 0.48, 0.27, 0.39, 0.19, 0.45, 0.24, 0.36,
    0.17, 0.44, 0.29, 0.40, 0.21, 0.47, 0.26, 0.34, 0.18, 0.42, 0.30, 0.49, 0.23, 0.37, 0.15, 0.45, 0.27, 0.41, 0.20, 0.46,
    0.33, 0.22, 0.48, 0.28, 0.39, 0.17, 0.44, 0.25, 0.50, 0.19, 0.36, 0.31, 0.21, 0.43, 0.26, 0.47, 0.18, 0.40, 0.24, 0.45,
    0.29, 0.42, 0.16, 0.46, 0.27, 0.38, 0.22, 0.49, 0.30, 0.19, 0.41, 0.25, 0.47, 0.18, 0.35, 0.44, 0.23, 0.39, 0.28, 0.48,
    0.20, 0.43, 0.26, 0.37, 0.17, 0.45, 0.32, 0.40, 0.21, 0.49, 0.24, 0.34, 0.19, 0.46, 0.28, 0.42, 0.16, 0.38, 0.25, 0.44,
    0.36, 0.19, 0.47, 0.27, 0.41, 0.22, 0.50, 0.30, 0.17, 0.43, 0.26, 0.39, 0.21, 0.45, 0.33, 0.18, 0.48, 0.24, 0.37, 0.28,
    0.42, 0.20, 0.36, 0.25, 0.47, 0.18, 0.40, 0.29, 0.23, 0.44, 0.16, 0.38, 0.27, 0.49, 0.21, 0.35, 0.26, 0.46, 0.19, 0.41,
    0.24, 0.45, 0.30, 0.39, 0.18, 0.48, 0.27, 0.35, 0.22, 0.43, 0.17, 0.46, 0.28, 0.40, 0.20, 0.44, 0.31, 0.37, 0.25, 0.42,
]
ar_l1_chain1_q3 = [
    0.19, 0.39, 0.28, 0.44, 0.35, 0.22, 0.47, 0.30, 0.41, 0.25, 0.18, 0.43, 0.36, 0.27, 0.49, 0.32, 0.21, 0.40, 0.46, 0.24,
    0.33, 0.17, 0.45, 0.36, 0.28, 0.48, 0.20, 0.41, 0.34, 0.26, 0.47, 0.16, 0.39, 0.30, 0.44, 0.23, 0.37, 0.49, 0.21, 0.42,
    0.45, 0.29, 0.21, 0.43, 0.32, 0.48, 0.25, 0.18, 0.46, 0.37, 0.27, 0.41, 0.34, 0.19, 0.44, 0.30, 0.48, 0.22, 0.40, 0.35,
    0.28, 0.38, 0.46, 0.24, 0.43, 0.19, 0.35, 0.48, 0.26, 0.40, 0.45, 0.21, 0.37, 0.29, 0.17, 0.42, 0.33, 0.47, 0.23, 0.39,
    0.25, 0.41, 0.34, 0.47, 0.22, 0.37, 0.49, 0.18, 0.43, 0.31, 0.27, 0.46, 0.20, 0.39, 0.35, 0.24, 0.45, 0.30, 0.48, 0.21,
    0.43, 0.20, 0.38, 0.30, 0.48, 0.24, 0.33, 0.45, 0.21, 0.40, 0.36, 0.17, 0.44, 0.28, 0.49, 0.22, 0.41, 0.34, 0.19, 0.47,
    0.32, 0.46, 0.19, 0.44, 0.28, 0.39, 0.23, 0.47, 0.35, 0.26, 0.41, 0.48, 0.20, 0.36, 0.43, 0.25, 0.39, 0.18, 0.45, 0.29,
    0.47, 0.31, 0.22, 0.40, 0.36, 0.17, 0.44, 0.27, 0.48, 0.33, 0.20, 0.45, 0.38, 0.24, 0.41, 0.46, 0.29, 0.35, 0.21, 0.43,
    0.27, 0.38, 0.45, 0.19, 0.41, 0.32, 0.48, 0.24, 0.37, 0.21, 0.46, 0.30, 0.42, 0.26, 0.49, 0.18, 0.39, 0.34, 0.44, 0.23,
    0.36, 0.28, 0.48, 0.21, 0.42, 0.25, 0.45, 0.19, 0.39, 0.33, 0.47, 0.27, 0.43, 0.22, 0.37, 0.49, 0.20, 0.41, 0.30, 0.46,
]
ar_l1_chain2 = [
    0.38, 0.21, 0.45, 0.26, 0.52, 0.19, 0.42, 0.31, 0.61, 0.18, 0.47, 0.24, 0.53, 0.20, 0.44, 0.01, 0.50, 0.23, 0.57, 0.06,
    0.46, 0.19, 0.41, 0.04, 0.56, 0.22, 0.48, 0.17, 0.43, 0.27, 0.51, 0.20, 0.56, 0.04, 0.45, 0.25, 0.49, 0.18, 0.40, 0.23,
    0.47, 0.05, 0.44, 0.21, 0.50, 0.55, 0.19, 0.42, 0.26, 0.48, 0.18, 0.45, 0.22, 0.52, 0.20, 0.41, 0.24, 0.49, 0.55, 0.08,
    0.43, 0.21, 0.47, 0.08, 0.50, 0.23, 0.44, 0.60, 0.19, 0.46, 0.26, 0.51, 0.17, 0.42, 0.22, 0.48, 0.20, 0.53, 0.24, 0.45,
    0.58, 0.66, 0.00, 0.44, 0.21, 0.49, 0.18, 0.46, 0.25, 0.52, 0.20, 0.43, 0.07, 0.63, 0.22, 0.64, 0.19, 0.47, 0.26, 0.41,
    0.23, 0.50, 0.18, 0.45, 0.10, 0.48, 0.21, 0.53, 0.24, 0.42, 0.19, 0.56, 0.22, 0.46, 0.27, 0.07, 0.49, 0.20, 0.44, 0.25,
    0.51, 0.18, 0.47, 0.23, 0.43, 0.20, 0.50, 0.26, 0.45, 0.19, 0.48, 0.22, 0.52, 0.24, 0.67, 0.17, 0.44, 0.08, 0.49, 0.21,
    0.46, 0.25, 0.42, 0.19, 0.50, 0.22, 0.47, 0.63, 0.18, 0.44, 0.26, 0.60, 0.20, 0.09, 0.48, 0.23, 0.45, 0.19, 0.52, 0.24,
    0.43, 0.21, 0.49, 0.56, 0.18, 0.46, 0.60, 0.25, 0.42, 0.20, 0.51, 0.23, 0.47, 0.17, 0.44, 0.26, 0.06, 0.59, 0.22, 0.48,
    0.19, 0.03, 0.45, 0.06, 0.50, 0.24, 0.46, 0.20, 0.53, 0.22, 0.58, 0.18, 0.47, 0.25, 0.44, 0.67, 0.21, 0.08, 0.57, 0.50,
]
ar_l1_chain2_q1 = [
    0.44, 0.29, 0.37, 0.21, 0.47, 0.35, 0.26, 0.43, 0.32, 0.40, 0.22, 0.38, 0.46, 0.27, 0.35, 0.42, 0.19, 0.39, 0.30, 0.48,
    0.24, 0.43, 0.31, 0.38, 0.20, 0.46, 0.34, 0.25, 0.42, 0.29, 0.47, 0.21, 0.36, 0.41, 0.27, 0.33, 0.45, 0.19, 0.37, 0.30,
    0.33, 0.45, 0.20, 0.41, 0.28, 0.36, 0.47, 0.24, 0.43, 0.30, 0.22, 0.44, 0.34, 0.26, 0.48, 0.31, 0.38, 0.21, 0.46, 0.29,
    0.46, 0.34, 0.25, 0.39, 0.22, 0.44, 0.36, 0.29, 0.41, 0.20, 0.47, 0.33, 0.26, 0.43, 0.37, 0.21, 0.45, 0.28, 0.40, 0.32,
    0.25, 0.44, 0.38, 0.21, 0.47, 0.30, 0.35, 0.42, 0.19, 0.45, 0.27, 0.37, 0.46, 0.23, 0.40, 0.31, 0.26, 0.48, 0.34, 0.22,
    0.38, 0.20, 0.46, 0.27, 0.43, 0.33, 0.24, 0.45, 0.29, 0.41, 0.21, 0.47, 0.35, 0.30, 0.22, 0.44, 0.39, 0.26, 0.42, 0.19,
    0.43, 0.30, 0.22, 0.45, 0.33, 0.40, 0.27, 0.47, 0.21, 0.36, 0.44, 0.29, 0.38, 0.24, 0.46, 0.34, 0.20, 0.42, 0.31, 0.39,
    0.21, 0.38, 0.46, 0.30, 0.24, 0.43, 0.35, 0.19, 0.45, 0.28, 0.41, 0.22, 0.47, 0.32, 0.26, 0.44, 0.37, 0.23, 0.40, 0.34,
    0.46, 0.35, 0.27, 0.44, 0.21, 0.39, 0.31, 0.45, 0.25, 0.37, 0.48, 0.20, 0.43, 0.29, 0.36, 0.42, 0.23, 0.46, 0.32, 0.38,
    0.28, 0.40, 0.20, 0.47, 0.35, 0.23, 0.44, 0.31, 0.39, 0.26, 0.46, 0.34, 0.21, 0.42, 0.30, 0.45, 0.24, 0.37, 0.43, 0.27,
]
ar_l1_chain2_mid = [
    0.30, 0.41, 0.24, 0.46, 0.33, 0.21, 0.39, 0.28, 0.44, 0.25, 0.36, 0.48, 0.22, 0.40, 0.31, 0.27, 0.45, 0.34, 0.20, 0.42,
    0.35, 0.26, 0.47, 0.29, 0.38, 0.22, 0.43, 0.32, 0.19, 0.41, 0.36, 0.25, 0.46, 0.30, 0.23, 0.44, 0.33, 0.27, 0.48, 0.21,
    0.39, 0.28, 0.45, 0.23, 0.34, 0.42, 0.26, 0.37, 0.20, 0.47, 0.31, 0.24, 0.40, 0.35, 0.22, 0.46, 0.29, 0.38, 0.25, 0.43,
    0.32, 0.20, 0.44, 0.27, 0.39, 0.30, 0.23, 0.47, 0.34, 0.26, 0.41, 0.21, 0.37, 0.45, 0.28, 0.33, 0.24, 0.42, 0.36, 0.19,
    0.40, 0.31, 0.26, 0.46, 0.35, 0.22, 0.43, 0.29, 0.38, 0.24, 0.48, 0.33, 0.27, 0.41, 0.20, 0.36, 0.44, 0.30, 0.23, 0.39,
    0.45, 0.25, 0.37, 0.32, 0.21, 0.42, 0.34, 0.28, 0.47, 0.23, 0.38, 0.30, 0.44, 0.26, 0.40, 0.19, 0.35, 0.46, 0.29, 0.33,
    0.24, 0.41, 0.36, 0.27, 0.48, 0.31, 0.22, 0.43, 0.34, 0.39, 0.25, 0.45, 0.29, 0.37, 0.21, 0.42, 0.32, 0.26, 0.47, 0.35,
    0.28, 0.44, 0.33, 0.23, 0.40, 0.36, 0.27, 0.46, 0.20, 0.38, 0.31, 0.43, 0.25, 0.35, 0.48, 0.22, 0.41, 0.34, 0.29, 0.45,
    0.37, 0.26, 0.42, 0.30, 0.35, 0.47, 0.21, 0.39, 0.32, 0.44, 0.24, 0.36, 0.28, 0.46, 0.33, 0.23, 0.40, 0.27, 0.43, 0.31,
    0.34, 0.45, 0.25, 0.38, 0.29, 0.42, 0.36, 0.22, 0.47, 0.31, 0.26, 0.40, 0.33, 0.44, 0.20, 0.39, 0.35, 0.28, 0.46, 0.41,
]
ar_l1_chain2_q3 = [
    0.22, 0.36, 0.47, 0.31, 0.25, 0.44, 0.34, 0.20, 0.42, 0.37, 0.28, 0.45, 0.33, 0.19, 0.47, 0.24, 0.38, 0.43, 0.26, 0.35,
    0.41, 0.32, 0.22, 0.45, 0.30, 0.39, 0.25, 0.47, 0.35, 0.21, 0.43, 0.28, 0.40, 0.22, 0.46, 0.36, 0.24, 0.42, 0.29, 0.44,
    0.25, 0.38, 0.43, 0.30, 0.46, 0.21, 0.35, 0.41, 0.29, 0.24, 0.45, 0.33, 0.19, 0.42, 0.37, 0.27, 0.47, 0.32, 0.22, 0.40,
    0.36, 0.44, 0.29, 0.22, 0.45, 0.38, 0.31, 0.25, 0.42, 0.35, 0.20, 0.46, 0.30, 0.24, 0.43, 0.39, 0.27, 0.47, 0.21, 0.41,
    0.47, 0.23, 0.40, 0.33, 0.26, 0.44, 0.20, 0.38, 0.46, 0.30, 0.36, 0.22, 0.42, 0.34, 0.45, 0.25, 0.39, 0.21, 0.43, 0.32,
    0.30, 0.43, 0.24, 0.40, 0.36, 0.19, 0.46, 0.33, 0.22, 0.44, 0.29, 0.38, 0.25, 0.47, 0.32, 0.37, 0.21, 0.45, 0.27, 0.41,
    0.35, 0.46, 0.29, 0.21, 0.39, 0.24, 0.44, 0.32, 0.40, 0.27, 0.47, 0.20, 0.43, 0.33, 0.26, 0.45, 0.37, 0.23, 0.41, 0.30,
    0.44, 0.27, 0.39, 0.47, 0.31, 0.22, 0.42, 0.36, 0.25, 0.45, 0.34, 0.28, 0.40, 0.19, 0.43, 0.30, 0.46, 0.24, 0.38, 0.33,
    0.23, 0.41, 0.34, 0.22, 0.46, 0.30, 0.40, 0.26, 0.44, 0.35, 0.21, 0.47, 0.32, 0.38, 0.24, 0.43, 0.29, 0.45, 0.20, 0.37,
    0.42, 0.31, 0.45, 0.27, 0.38, 0.21, 0.47, 0.34, 0.25, 0.43, 0.36, 0.22, 0.46, 0.29, 0.41, 0.33, 0.44, 0.20, 0.39, 0.35,
]

param_names = ["sigma2.level", "sigma2.ar", "ar.L1"]
chains = {
    "sigma2.level": [
        (level_chain1, level_chain1_q1, level_chain1_mid, level_chain1_q3),
        (level_chain2, level_chain2_q1, level_chain2_mid, level_chain2_q3),
    ],
    "sigma2.ar": [
        (ar_sigma_chain1, ar_sigma_chain1_q1, ar_sigma_chain1_mid, ar_sigma_chain1_q3),
        (ar_sigma_chain2, ar_sigma_chain2_q1, ar_sigma_chain2_mid, ar_sigma_chain2_q3),
    ],
    "ar.L1": [
        (ar_l1_chain1, ar_l1_chain1_q1, ar_l1_chain1_mid, ar_l1_chain1_q3),
        (ar_l1_chain2, ar_l1_chain2_q1, ar_l1_chain2_mid, ar_l1_chain2_q3),
    ],
}
draw_step = 15

sns.set_theme(style="darkgrid", rc={
    "axes.titlesize": 12,
    "axes.labelsize": 11,
    "xtick.labelsize": 10,
    "ytick.labelsize": 10,
    "lines.linewidth": 2.0,
})
plt.rcParams["font.family"] = ["Liberation Sans", "DejaVu Sans"]

fig, axes = plt.subplots(1, 3, figsize=(19.09, 3.10), dpi=100)
fig.subplots_adjust(left=0.021, right=0.9956, top=0.903, bottom=0.172, wspace=0.2)

for ax, name in zip(axes, param_names):
    frames = []
    for chain_id, readings in enumerate(chains[name]):
        base = np.arange(len(readings[0])) * draw_step
        for k, vals in enumerate(readings):
            frames.append(pd.DataFrame({
                "Draw": base + k * draw_step / len(readings),
                "value": vals,
                "chain": str(chain_id),
            }))
    df = pd.concat(frames, ignore_index=True)
    sns.lineplot(data=df, x="Draw", y="value", hue="chain",
                 palette=["#4C72B0", "#55A868"], legend=False, ax=ax)
    ax.set_title(name)
    ax.set_ylabel("")

fig.savefig("out.png", dpi=100)
